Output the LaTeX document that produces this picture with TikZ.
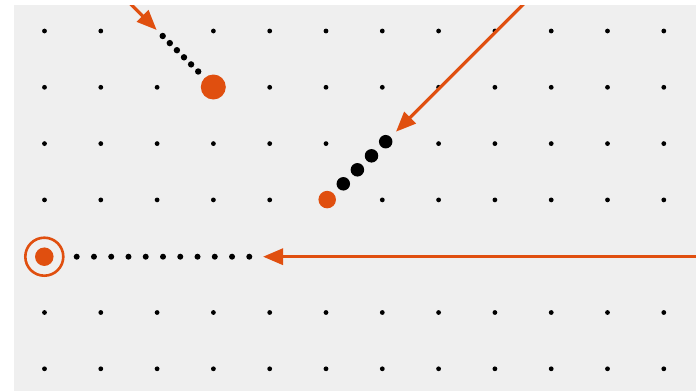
\documentclass[tikz,border=0pt]{standalone}
\usetikzlibrary{arrows.meta}
\definecolor{bg}{RGB}{239,239,239}
\definecolor{org}{RGB}{224,79,15}
\tikzset{
  griddot/.style={circle,fill=black,inner sep=0pt,minimum size=4.8pt},
  smalldot/.style={circle,fill=black,inner sep=0pt,minimum size=6.4pt},
  bigdot/.style={circle,fill=black,inner sep=0pt,minimum size=13.5pt},
  orgdot/.style={circle,fill=org,inner sep=0pt},
  orgarrow/.style={draw=org,line width=3.2pt,-{Triangle[length=20pt,width=16pt]}},
}
\begin{document}
\begin{tikzpicture}[x=1pt,y=-1pt]
\useasboundingbox (0,0) rectangle (696,391);
\fill[white] (0,0) rectangle (696,391);
\fill[bg] (14,5) rectangle (696,391);
% grid
\foreach \r in {0,...,6}{
  \foreach \c in {0,...,11}{
    \pgfmathsetmacro{\gx}{44.5+56.3*\c}
    \pgfmathsetmacro{\gy}{31+56.3*\r}
    \pgfmathtruncatemacro{\skip}{(\r==0 && \c==2) || (\r==1 && \c==3) || (\r==2 && \c==6) || (\r==3 && \c==5) || (\r==4)}
    \ifnum\skip=0
      \node[griddot] (g\r-\c) at (\gx,\gy) {};
    \fi
  }
}
% group 1
\foreach \i/\x/\y in {1/162.7/36,2/169.8/43.1,3/176.9/50.2,4/184/57.3,5/191.1/64.4,6/198.2/71.5}{
  \node[smalldot] (a\i) at (\x,\y) {};
}
\node[orgdot,minimum size=25pt] (A) at (213.3,87) {};
\coordinate (as) at (121.7,-5);
\coordinate (at) at (156.7,30);
% group 2
\foreach \i/\x/\y in {1/385.7/141.7,2/371.5/155.8,3/357.4/169.8,4/343.3/183.8}{
  \node[bigdot] (b\i) at (\x,\y) {};
}
\node[orgdot,minimum size=17.5pt] (B) at (327.2,199.6) {};
\coordinate (bs) at (532.7,-5);
\coordinate (bt) at (396,131.7);
% group 3
\foreach \i in {0,...,10}{
  \pgfmathsetmacro{\cx}{76.7+17.26*\i}
  \node[smalldot,minimum size=6pt] (c\i) at (\cx,256.7) {};
}
\node[orgdot,minimum size=18.5pt] (C) at (44.3,256.7) {};
\node[circle,draw=org,line width=2.6pt,inner sep=0pt,minimum size=38pt] (Cring) at (44.3,256.7) {};
\coordinate (cs) at (700,256.7);
\coordinate (ct) at (263,256.7);
% arrows
\begin{scope}
\clip (14,5) rectangle (696,391);
\draw[orgarrow] (as) -- (at);
\draw[orgarrow] (bs) -- (bt);
\draw[orgarrow] (cs) -- (ct);
\end{scope}
\end{tikzpicture}
\end{document}
